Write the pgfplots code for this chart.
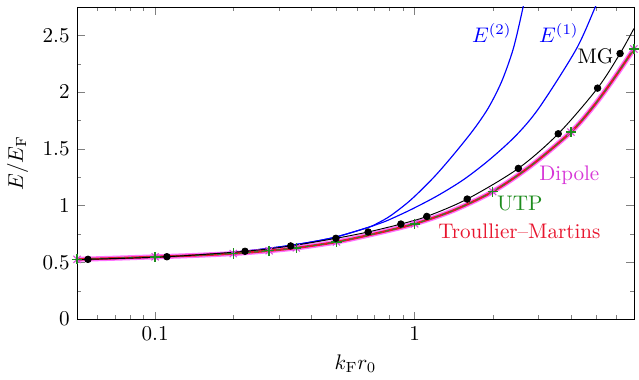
\documentclass[border=0pt]{standalone}
\usepackage{pgfplots}
\pgfplotsset{compat=1.18}
\definecolor{dipc}{RGB}{255,90,255}
\definecolor{diptext}{RGB}{215,55,215}
\definecolor{tmc}{RGB}{232,20,45}
\definecolor{utpc}{RGB}{30,140,30}
\begin{document}
\begin{tikzpicture}
\begin{axis}[
  xmode=log, xmin=0.05, xmax=7, ymin=0, ymax=2.75,
  width=264pt, height=148pt, scale only axis,
  log ticks with fixed point,
  ytick={0,0.5,1,1.5,2,2.5},
  minor y tick num=1,
  major tick length=3.6pt, minor tick length=1.8pt,
  xlabel={$k_{\mathrm{F}} r_0$}, ylabel={$E/E_{\mathrm{F}}$},
  clip=true,
]
% E(2)
\addplot[blue, line width=0.55pt, smooth, tension=0.5] coordinates {
(0.05,0.523) (0.1,0.545) (0.2,0.590) (0.3,0.636) (0.4,0.680) (0.4995,0.725)
(0.6615,0.808) (0.722,0.847) (0.810,0.913) (0.968,1.052) (1.189,1.253)
(1.418,1.454) (1.690,1.672) (1.928,1.865) (2.167,2.096) (2.401,2.384)
(2.607,2.730) (2.700,2.912)};
% E(1)
\addplot[blue, line width=0.55pt, smooth, tension=0.5] coordinates {
(0.05,0.523) (0.1,0.545) (0.2,0.590) (0.3,0.636) (0.4,0.680) (0.4995,0.725)
(0.6615,0.808) (0.722,0.838) (0.789,0.871) (0.968,0.965) (1.224,1.087)
(1.548,1.231) (1.955,1.410) (2.473,1.624) (3.034,1.869) (4.190,2.376)
(4.965,2.748) (5.173,2.843)};
% Dipole thick line
\addplot[dipc, line width=2.4pt, opacity=0.85, smooth] coordinates {
(0.05,0.527) (0.07,0.537) (0.1,0.549) (0.14,0.561) (0.2,0.578) (0.275,0.603)
(0.35,0.628) (0.5,0.680) (0.7,0.752) (1.0,0.840) (1.4,0.955) (2.0,1.124)
(2.8,1.350) (4.0,1.648) (4.85,1.865) (5.78,2.100) (7.0,2.380)};
% Troullier-Martins
\addplot[tmc, line width=1.1pt, smooth] coordinates {
(0.05,0.527) (0.07,0.537) (0.1,0.549) (0.14,0.561) (0.2,0.578) (0.275,0.603)
(0.35,0.628) (0.5,0.680) (0.7,0.752) (1.0,0.840) (1.4,0.955) (2.0,1.124)
(2.8,1.350) (4.0,1.648) (4.85,1.865) (5.78,2.100) (7.0,2.380)};
% UTP dashed
\addplot[utpc!80!gray, line width=0.5pt, dash pattern=on 2pt off 1.5pt, smooth] coordinates {
(0.05,0.527) (0.07,0.537) (0.1,0.549) (0.14,0.561) (0.2,0.578) (0.275,0.603)
(0.35,0.628) (0.5,0.680) (0.7,0.752) (1.0,0.840) (1.4,0.955) (2.0,1.124)
(2.8,1.350) (4.0,1.648) (4.85,1.865) (5.78,2.100) (7.0,2.380)};
% Dipole marks
\addplot[only marks, mark=x, mark size=2.4pt, color=dipc!85!black, mark options={line width=0.5pt}] coordinates {
(0.05,0.527) (0.1,0.549) (0.2,0.578) (0.275,0.603) (0.35,0.628) (0.5,0.680)
(1.0,0.840) (2.0,1.124) (4.0,1.648) (7.0,2.380)};
% UTP marks
\addplot[only marks, mark=+, mark size=2.4pt, color=utpc, mark options={line width=0.7pt}] coordinates {
(0.05,0.527) (0.1,0.549) (0.2,0.578) (0.275,0.603) (0.35,0.628) (0.5,0.680)
(1.0,0.840) (2.0,1.124) (4.0,1.648) (7.0,2.380)};
% MG line
\addplot[black, line width=0.45pt, smooth] coordinates {
(0.05,0.524) (0.0551,0.527) (0.111,0.550) (0.222,0.598) (0.333,0.645) (0.497,0.712)
(0.662,0.768) (0.885,0.838) (1.114,0.905) (1.594,1.058) (2.51,1.328)
(3.576,1.633) (5.07,2.035) (6.19,2.340) (7.0,2.56)};
% MG dots
\addplot[only marks, mark=*, mark size=1.55pt, black] coordinates {
(0.0551,0.527) (0.111,0.550) (0.222,0.598) (0.333,0.645) (0.497,0.712)
(0.662,0.768) (0.885,0.838) (1.114,0.905) (1.594,1.058) (2.51,1.328)
(3.576,1.633) (5.07,2.035) (6.19,2.340)};
\node[anchor=east, inner sep=0pt, blue] at (axis cs:2.37,2.52) {$E^{(2)}$};
\node[anchor=east, inner sep=0pt, blue] at (axis cs:4.3,2.52) {$E^{(1)}$};
\node[anchor=east, inner sep=0pt, black] at (axis cs:5.86,2.317) {MG};
\node[anchor=east, inner sep=0pt, diptext] at (axis cs:5.17,1.27) {Dipole};
\node[anchor=west, inner sep=0pt, utpc] at (axis cs:2.07,1.02) {UTP};
\node[anchor=east, inner sep=0pt, tmc] at (axis cs:5.22,0.774) {Troullier--Martins};
\end{axis}
\path ([yshift=3.3pt]current axis.north east);
\end{tikzpicture}
\end{document}
